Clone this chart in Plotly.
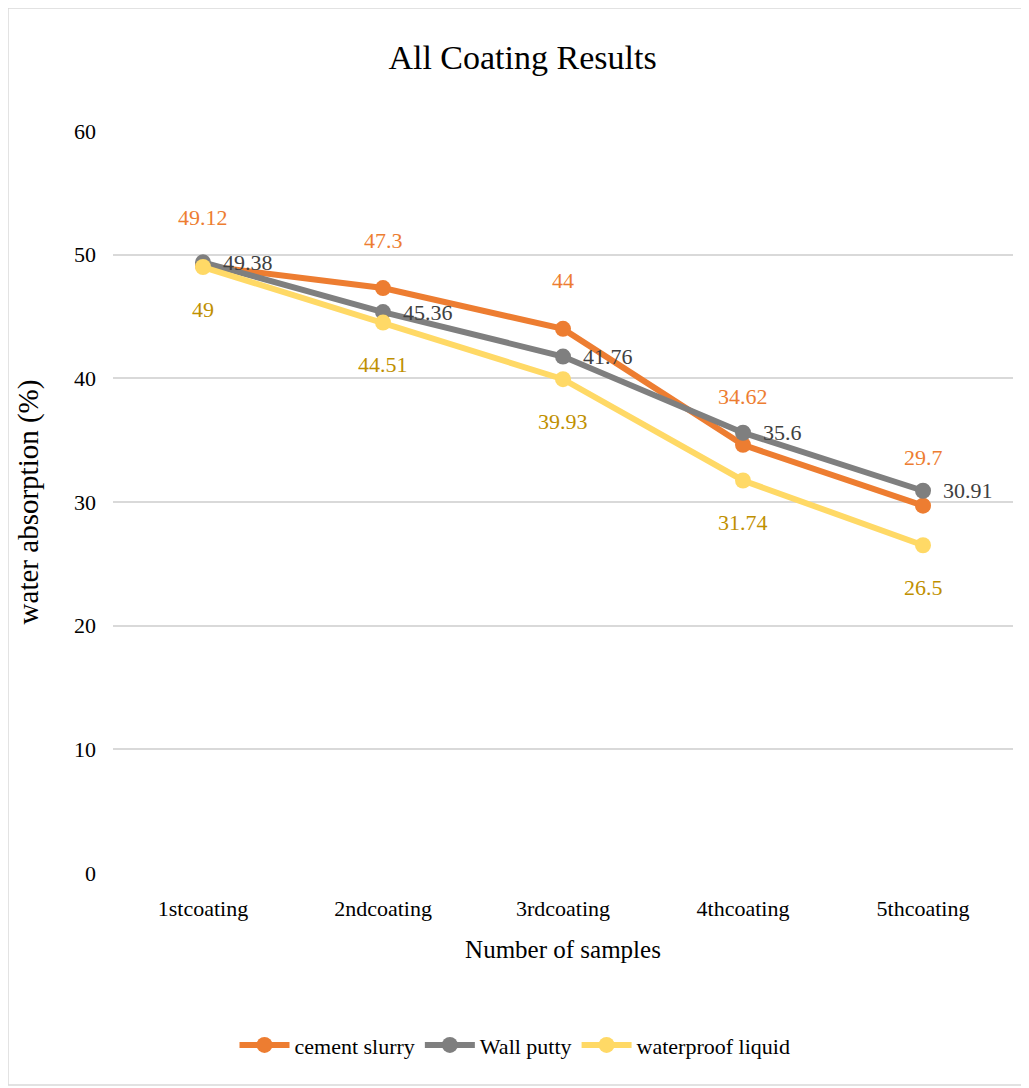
import plotly.graph_objects as go

categories = ["1stcoating", "2ndcoating", "3rdcoating", "4thcoating", "5thcoating"]
cement_slurry = [49.12, 47.3, 44, 34.62, 29.7]
wall_putty = [49.38, 45.36, 41.76, 35.6, 30.91]
waterproof_liquid = [49, 44.51, 39.93, 31.74, 26.5]
y_ticks = [0, 10, 20, 30, 40, 50, 60]

FONT = "Liberation Serif, Times New Roman, serif"
series = [
    ("cement slurry", cement_slurry, "#ED7D31", "#ED7D31", (0, 48, "center")),
    ("Wall putty", wall_putty, "#7F7F7F", "#404040", (18, 0, "left")),
    ("waterproof liquid", waterproof_liquid, "#FFD966", "#BF9000", (0, -42, "center")),
]

fig = go.Figure()
annotations = []
for name, vals, col, lcol, (dx, dy, anc) in series:
    fig.add_trace(go.Scatter(
        x=categories, y=vals, name=name, mode="lines+markers",
        line=dict(color=col, width=6),
        marker=dict(color=col, size=16),
    ))
    for c, v in zip(categories, vals):
        annotations.append(dict(
            x=c, y=v, xref="x", yref="y", text=f"{v:g}", showarrow=False,
            xanchor=anc, xshift=dx, yshift=dy,
            font=dict(family=FONT, size=22, color=lcol),
        ))

fig.update_layout(
    width=1029, height=1088,
    margin=dict(l=105, r=24, t=123, b=223),
    paper_bgcolor="white", plot_bgcolor="white",
    font=dict(family=FONT, size=22, color="#000000"),
    title=dict(text="All Coating Results", x=0.5, xanchor="center",
               y=0.955, yanchor="middle", font=dict(family=FONT, size=34, color="#000000")),
    xaxis=dict(type="category", range=[-0.5, 4.5], showgrid=False, showline=False,
               zeroline=False, ticks="", tickfont=dict(size=22), ticklabelstandoff=20,
               title=dict(text="Number of samples", font=dict(size=25), standoff=20)),
    yaxis=dict(range=[0, 60], tickvals=y_ticks, showgrid=True, gridcolor="#D9D9D9",
               gridwidth=1.5, zeroline=False, showline=False, ticks="",
               tickfont=dict(size=22), ticklabelstandoff=16,
               title=dict(text="water absorption (%)", font=dict(size=29), standoff=26)),
    legend=dict(orientation="h", x=0.135, xanchor="left", y=-0.232, yanchor="middle",
                font=dict(size=22), itemwidth=50),
    annotations=annotations,
    shapes=[dict(type="rect", xref="paper", yref="paper", x0=-0.1167, x1=1.01,
                 y0=-0.2857, y1=1.1658, line=dict(color="#D9D9D9", width=1.5), layer="below")],
    showlegend=True,
)

fig.write_html("out.html")
